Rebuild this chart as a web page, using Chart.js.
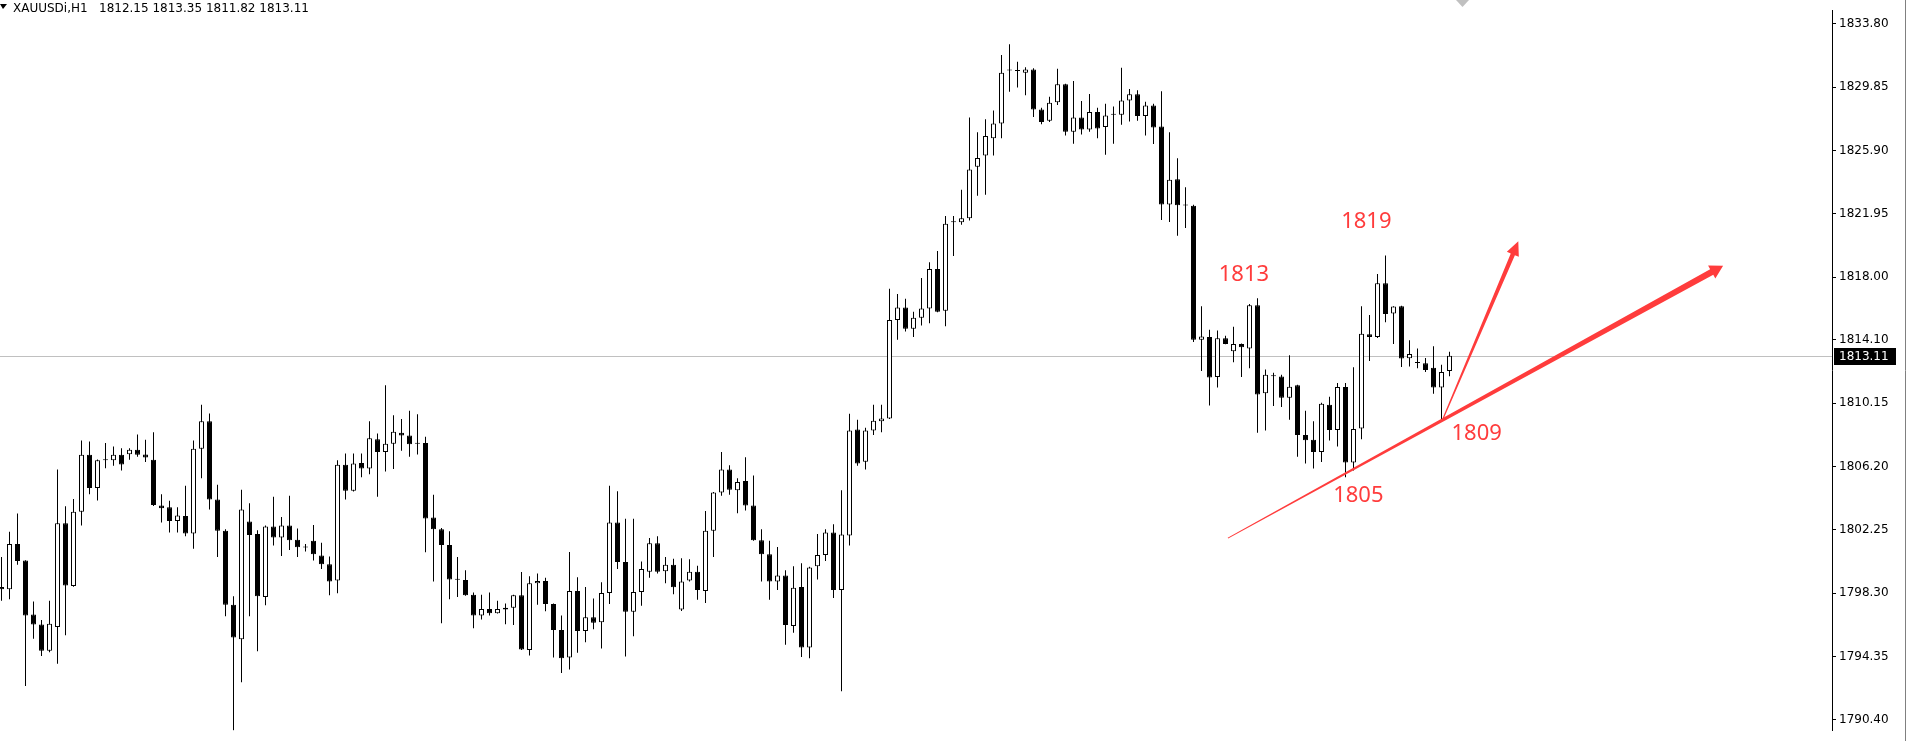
<!DOCTYPE html>
<html>
<head>
<meta charset="utf-8">
<title>XAUUSDi,H1</title>
<script src="https://cdn.jsdelivr.net/npm/chart.js@4.4.1/dist/chart.umd.min.js"></script>
<style>
  html, body { margin: 0; padding: 0; background: #fff; }
  #wrap { position: relative; width: 1907px; height: 741px; }
</style>
</head>
<body>
<div id="wrap"><canvas id="chart"></canvas></div>
<script>
// XAUUSDi H1 candles (oldest first)
const open = [
  1798.68, 1798.54, 1801.36, 1800.33, 1796.97, 1796.34, 1794.70, 1796.19, 1802.65, 1798.74,
  1803.37, 1806.93, 1804.86, 1806.58, 1806.58, 1806.93, 1806.96, 1807.24, 1806.95, 1806.61,
  1803.77, 1803.66, 1802.79, 1803.11, 1802.02, 1807.30, 1809.02, 1804.14, 1802.19, 1797.57,
  1795.42, 1802.76, 1801.99, 1798.05, 1802.45, 1801.76, 1802.51, 1801.62, 1801.16, 1801.56,
  1800.64, 1800.10, 1799.09, 1806.30, 1804.69, 1806.41, 1806.07, 1807.90, 1807.10, 1807.61,
  1808.30, 1808.13, 1807.61, 1807.67, 1803.02, 1802.28, 1801.30, 1799.15, 1799.12, 1798.20,
  1796.91, 1797.31, 1797.05, 1797.28, 1797.39, 1798.17, 1794.75, 1798.91, 1799.06, 1797.62,
  1795.99, 1794.29, 1798.43, 1795.93, 1796.79, 1796.48, 1798.31, 1802.71, 1800.24, 1797.14,
  1798.37, 1799.63, 1801.41, 1799.66, 1800.07, 1797.28, 1799.09, 1799.63, 1798.43, 1802.19,
  1804.57, 1806.01, 1804.71, 1805.29, 1803.77, 1801.59, 1800.73, 1799.03, 1799.40, 1796.25,
  1798.68, 1794.90, 1799.98, 1800.67, 1802.08, 1798.49, 1801.90, 1808.50, 1806.49, 1808.45,
  1809.02, 1809.19, 1815.34, 1816.11, 1814.79, 1815.48, 1816.06, 1818.52, 1815.91, 1821.43,
  1821.43, 1821.68, 1824.90, 1825.59, 1826.68, 1827.60, 1830.90, 1830.90, 1830.76, 1830.96,
  1828.46, 1827.77, 1828.92, 1830.04, 1827.08, 1827.97, 1827.22, 1828.31, 1827.37, 1828.14,
  1828.14, 1829.03, 1829.41, 1828.06, 1828.72, 1827.40, 1822.54, 1824.12, 1822.49, 1822.46,
  1814.10, 1814.27, 1811.78, 1814.19, 1813.38, 1813.84, 1813.56, 1816.26, 1810.77, 1811.83,
  1811.81, 1810.49, 1811.26, 1808.16, 1807.87, 1807.10, 1810.05, 1808.48, 1811.15, 1806.44,
  1808.56, 1814.45, 1814.27, 1817.63, 1815.74, 1816.20, 1812.95, 1812.67, 1812.64, 1812.35,
  1811.12, 1812.15
];
const high = [
  1800.55, 1802.13, 1803.26, 1800.35, 1797.77, 1796.62, 1797.82, 1806.01, 1803.71, 1804.17,
  1807.82, 1807.76, 1806.64, 1807.67, 1807.44, 1807.33, 1807.33, 1808.19, 1807.87, 1808.33,
  1804.46, 1804.06, 1803.66, 1805.00, 1807.82, 1810.05, 1809.51, 1805.06, 1802.28, 1798.11,
  1804.74, 1803.91, 1802.22, 1802.51, 1804.31, 1803.05, 1804.37, 1802.33, 1801.36, 1802.54,
  1801.44, 1800.58, 1806.58, 1807.01, 1807.01, 1807.01, 1809.02, 1808.25, 1811.26, 1809.39,
  1809.16, 1809.68, 1809.45, 1808.05, 1804.43, 1802.36, 1802.16, 1800.55, 1799.72, 1798.34,
  1798.20, 1798.34, 1797.82, 1797.65, 1798.20, 1799.61, 1799.35, 1799.52, 1799.26, 1797.65,
  1796.91, 1800.87, 1799.29, 1798.68, 1797.97, 1798.97, 1805.00, 1804.66, 1802.93, 1802.93,
  1800.27, 1801.73, 1801.85, 1800.55, 1800.44, 1800.47, 1800.41, 1800.01, 1803.42, 1804.60,
  1807.10, 1806.27, 1805.46, 1806.78, 1805.63, 1802.28, 1801.56, 1801.18, 1799.72, 1799.98,
  1800.16, 1799.95, 1801.99, 1802.28, 1802.59, 1804.71, 1809.48, 1809.11, 1808.62, 1810.05,
  1810.05, 1817.29, 1816.95, 1816.66, 1815.85, 1817.95, 1818.93, 1819.64, 1821.83, 1821.83,
  1823.46, 1827.97, 1827.05, 1827.86, 1828.40, 1831.87, 1832.54, 1831.44, 1831.10, 1831.04,
  1828.57, 1829.26, 1831.01, 1830.07, 1830.24, 1829.00, 1829.43, 1828.57, 1828.83, 1828.66,
  1831.07, 1829.75, 1829.66, 1828.95, 1828.83, 1829.61, 1827.05, 1825.42, 1823.61, 1822.52,
  1816.20, 1814.73, 1814.68, 1814.36, 1814.91, 1813.87, 1816.34, 1816.69, 1812.24, 1812.04,
  1811.92, 1813.13, 1811.29, 1809.68, 1809.02, 1810.17, 1810.54, 1811.40, 1811.40, 1812.38,
  1816.20, 1815.65, 1818.21, 1819.36, 1816.20, 1816.23, 1814.07, 1813.56, 1812.96, 1813.70,
  1812.55, 1813.35
];
const low = [
  1797.82, 1797.91, 1800.07, 1792.51, 1795.45, 1794.37, 1794.61, 1793.89, 1795.67, 1798.70,
  1802.51, 1804.46, 1804.08, 1806.09, 1806.24, 1805.95, 1806.61, 1806.81, 1806.47, 1803.74,
  1802.71, 1802.08, 1802.08, 1801.85, 1801.07, 1805.46, 1803.51, 1800.55, 1796.85, 1789.75,
  1792.74, 1796.85, 1794.67, 1797.54, 1801.27, 1800.61, 1800.99, 1800.55, 1800.90, 1800.33,
  1799.81, 1798.17, 1798.29, 1804.14, 1804.63, 1805.52, 1805.72, 1804.31, 1805.89, 1806.04,
  1807.18, 1806.81, 1806.95, 1800.84, 1799.03, 1796.42, 1797.91, 1798.05, 1798.14, 1796.11,
  1796.65, 1796.91, 1797.02, 1796.36, 1796.31, 1794.75, 1794.41, 1797.57, 1797.17, 1794.29,
  1793.31, 1793.54, 1794.58, 1795.24, 1796.05, 1794.84, 1797.62, 1799.81, 1794.35, 1795.61,
  1797.51, 1799.26, 1799.52, 1798.91, 1798.23, 1797.19, 1799.03, 1797.88, 1797.68, 1800.55,
  1804.37, 1804.43, 1803.28, 1803.45, 1801.56, 1799.03, 1797.88, 1798.49, 1795.07, 1795.82,
  1794.32, 1794.23, 1799.15, 1800.30, 1797.99, 1792.17, 1801.27, 1806.24, 1806.01, 1808.16,
  1808.33, 1809.16, 1814.10, 1814.62, 1814.27, 1814.99, 1815.14, 1815.82, 1814.94, 1819.33,
  1821.28, 1821.54, 1823.09, 1823.15, 1825.59, 1826.68, 1829.58, 1829.84, 1829.35, 1828.00,
  1827.54, 1827.68, 1828.75, 1826.85, 1826.33, 1826.91, 1827.08, 1826.68, 1825.65, 1826.33,
  1827.51, 1827.71, 1827.77, 1826.85, 1826.31, 1821.57, 1821.45, 1820.59, 1821.08, 1813.96,
  1812.15, 1810.00, 1811.12, 1813.82, 1812.70, 1811.78, 1812.32, 1808.30, 1808.45, 1809.97,
  1809.91, 1809.11, 1806.81, 1806.38, 1806.07, 1806.47, 1807.82, 1807.44, 1805.52, 1805.95,
  1807.90, 1812.78, 1814.22, 1815.19, 1813.84, 1812.41, 1812.44, 1812.32, 1812.09, 1810.74,
  1809.16, 1811.82
];
const close = [
  1798.54, 1801.36, 1800.30, 1796.91, 1796.34, 1794.70, 1796.39, 1802.65, 1798.77, 1803.37,
  1806.93, 1804.86, 1806.58, 1806.60, 1806.93, 1806.32, 1807.24, 1806.93, 1806.76, 1803.80,
  1803.60, 1802.79, 1803.14, 1802.02, 1807.30, 1809.02, 1804.14, 1802.19, 1797.57, 1795.53,
  1803.51, 1801.93, 1798.11, 1802.45, 1801.76, 1802.51, 1801.59, 1801.16, 1801.14, 1800.73,
  1800.10, 1799.03, 1806.30, 1804.69, 1806.38, 1806.07, 1807.96, 1807.10, 1807.61, 1808.36,
  1808.13, 1807.59, 1807.62, 1802.96, 1802.28, 1801.30, 1799.15, 1799.13, 1798.17, 1796.91,
  1797.31, 1797.05, 1797.31, 1797.39, 1798.17, 1794.78, 1798.91, 1799.06, 1797.62, 1795.99,
  1794.23, 1798.43, 1795.93, 1796.79, 1796.45, 1798.31, 1802.71, 1800.24, 1797.14, 1798.37,
  1799.81, 1801.41, 1799.63, 1800.07, 1798.66, 1799.03, 1799.63, 1798.49, 1802.19, 1804.57,
  1806.01, 1804.74, 1805.23, 1803.77, 1801.59, 1800.73, 1799.03, 1799.40, 1796.31, 1798.63,
  1794.90, 1799.89, 1800.67, 1802.08, 1798.49, 1801.96, 1808.45, 1806.38, 1808.45, 1809.05,
  1809.19, 1815.34, 1816.11, 1814.79, 1815.48, 1816.06, 1818.52, 1815.85, 1821.34, 1821.45,
  1821.68, 1824.73, 1825.44, 1826.82, 1827.60, 1830.76, 1830.92, 1830.87, 1830.96, 1828.46,
  1827.68, 1828.89, 1830.04, 1827.08, 1827.97, 1827.22, 1828.31, 1827.28, 1828.09, 1828.15,
  1829.03, 1829.41, 1828.06, 1828.72, 1827.34, 1822.54, 1824.09, 1822.49, 1822.47, 1814.10,
  1814.30, 1811.75, 1814.19, 1813.84, 1813.84, 1813.64, 1816.26, 1810.69, 1811.92, 1811.84,
  1810.49, 1811.17, 1808.16, 1807.84, 1807.10, 1810.11, 1808.48, 1811.15, 1806.44, 1808.53,
  1814.48, 1814.27, 1817.63, 1815.71, 1816.17, 1812.93, 1813.21, 1812.66, 1812.21, 1811.12,
  1812.09, 1813.11
];

const priceTicks = [1833.80, 1829.85, 1825.90, 1821.95, 1818.00, 1814.10, 1810.15,
                    1806.20, 1802.25, 1798.30, 1794.35, 1790.40];

const symbolTitle = "XAUUSDi,H1";

// hand drawn marks on the screenshot: [bar index, price]
const trendFrom = [153.3, 1801.73];
const trendTo = [215.2, 1818.72];
const riseFrom = [180.2, 1809.19];
const riseTo = [189.6, 1820.24];
const notes = [
  { text: "1813", at: [155.3, 1818.16] },
  { text: "1819", at: [170.6, 1821.44] },
  { text: "1805", at: [169.6, 1804.36] },
  { text: "1809", at: [184.4, 1808.27] }
];

const lastClose = close[close.length - 1];
const bodies = open.map((o, i) => ({ x: i, y: [o, close[i]] }));
const wicks = low.map((l, i) => ({ x: i, y: [l, high[i]] }));
const bodyFill = open.map((o, i) => (close[i] >= o ? "#ffffff" : "#000000"));

const RED = "#ff3c3c";

function taperedArrow(ctx, p0, p1, w0, w1, headLen, headW) {
  const dx = p1.x - p0.x, dy = p1.y - p0.y;
  const len = Math.hypot(dx, dy);
  const ux = dx / len, uy = dy / len;
  const nx = -uy, ny = ux;
  const bx = p1.x - ux * headLen, by = p1.y - uy * headLen;
  ctx.beginPath();
  ctx.moveTo(p0.x + nx * w0 / 2, p0.y + ny * w0 / 2);
  ctx.lineTo(bx + nx * w1 / 2, by + ny * w1 / 2);
  ctx.lineTo(bx + nx * headW / 2, by + ny * headW / 2);
  ctx.lineTo(p1.x, p1.y);
  ctx.lineTo(bx - nx * headW / 2, by - ny * headW / 2);
  ctx.lineTo(bx - nx * w1 / 2, by - ny * w1 / 2);
  ctx.lineTo(p0.x - nx * w0 / 2, p0.y - ny * w0 / 2);
  ctx.closePath();
  ctx.fill();
}

const terminalLook = {
  id: "terminalLook",
  beforeDatasetsDraw(chart) {
    const { ctx, chartArea, scales } = chart;
    const y = Math.round(scales.y.getPixelForValue(lastClose)) + 0.5;
    ctx.save();
    ctx.strokeStyle = "#c0c0c0";
    ctx.lineWidth = 1;
    ctx.beginPath();
    ctx.moveTo(chartArea.left, y);
    ctx.lineTo(chartArea.right, y);
    ctx.stroke();
    ctx.restore();
  },
  afterDraw(chart) {
    const { ctx, chartArea, scales } = chart;
    const px = (p) => ({ x: scales.x.getPixelForValue(p[0]), y: scales.y.getPixelForValue(p[1]) });
    ctx.save();

    // header
    ctx.fillStyle = "#000";
    ctx.beginPath();
    ctx.moveTo(0, 4); ctx.lineTo(7, 4); ctx.lineTo(3, 9); ctx.closePath();
    ctx.fill();
    ctx.font = "12px 'DejaVu Sans'";
    ctx.textBaseline = "middle";
    ctx.textAlign = "left";
    ctx.fillText(symbolTitle, 13, 9);
    ctx.fillText([open, high, low, close].map(a => a[a.length - 1].toFixed(2)).join(" "), 99, 9);

    // chart shift marker
    ctx.fillStyle = "#c0c0c0";
    ctx.beginPath();
    ctx.moveTo(1456, 0); ctx.lineTo(1469, 0); ctx.lineTo(1462.5, 7); ctx.closePath();
    ctx.fill();

    // red drawings
    ctx.fillStyle = RED;
    taperedArrow(ctx, px(trendFrom), px(trendTo), 1, 6.5, 13, 15);
    taperedArrow(ctx, px(riseFrom), px(riseTo), 1.2, 4.5, 14, 13);
    ctx.font = "22px 'Noto Sans'";
    ctx.textAlign = "center";
    ctx.textBaseline = "middle";
    notes.forEach(n => {
      const p = px(n.at);
      ctx.fillText(n.text, p.x, p.y);
    });

    // bid label on the price axis
    const y = Math.round(scales.y.getPixelForValue(lastClose));
    ctx.fillStyle = "#000";
    ctx.fillRect(chartArea.right + 2, y - 8, 62, 17);
    ctx.fillStyle = "#fff";
    ctx.font = "12px 'DejaVu Sans'";
    ctx.textAlign = "left";
    ctx.fillText(lastClose.toFixed(2), chartArea.right + 7, y + 0.5);

    // right frame
    ctx.strokeStyle = "#808080";
    ctx.beginPath();
    ctx.moveTo(1905.5, 0); ctx.lineTo(1905.5, 741);
    ctx.stroke();
    ctx.restore();
  }
};

new Chart(document.getElementById("chart"), {
  type: "bar",
  data: {
    datasets: [
      {
        label: "body",
        data: bodies,
        order: 0,
        grouped: false,
        barThickness: 5,
        minBarLength: 1,
        backgroundColor: bodyFill,
        borderColor: "#000",
        borderWidth: 1,
        borderSkipped: false,
        inflateAmount: 0
      },
      {
        label: "wick",
        data: wicks,
        order: 1,
        grouped: false,
        barThickness: 1,
        minBarLength: 1,
        backgroundColor: "#000",
        borderWidth: 0,
        inflateAmount: 0
      }
    ]
  },
  options: {
    responsive: true,
    maintainAspectRatio: false,
    animation: false,
    events: [],
    layout: { padding: 0 },
    plugins: { legend: { display: false }, tooltip: { enabled: false } },
    scales: {
      x: {
        type: "linear",
        display: false,
        offset: false,
        grace: 0,
        min: -0.1875,
        max: 228.8125
      },
      y: {
        type: "linear",
        position: "right",
        min: 1789.71,
        max: 1834.66,
        afterBuildTicks(scale) {
          scale.ticks = priceTicks.map(v => ({ value: v }));
        },
        afterFit(scale) {
          scale.width = 75;
        },
        grid: {
          drawOnChartArea: false,
          drawTicks: true,
          tickLength: 4,
          color: "#000"
        },
        border: { display: true, color: "#000", width: 1 },
        ticks: {
          padding: 3,
          color: "#000",
          font: { family: "'DejaVu Sans'", size: 12 },
          callback: v => Number(v).toFixed(2)
        }
      }
    }
  },
  plugins: [terminalLook]
});
</script>
</body>
</html>
